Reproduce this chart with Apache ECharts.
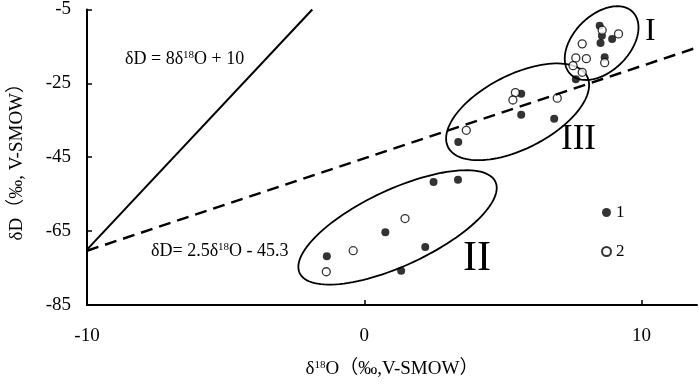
<!DOCTYPE html>
<html>
<head>
<meta charset="utf-8">
<script src="https://cdn.jsdelivr.net/npm/echarts@6/dist/echarts.min.js"></script>
<style>
  html, body { margin: 0; padding: 0; background: #fff; }
  #chart { width: 699px; height: 384px; }
</style>
</head>
<body>
<div id="chart"></div>
<script>
// 数据
var group1 = [
  [8.49, -9.4], [8.57, -12.1], [8.52, -14.1], [8.94, -13.0], [8.67, -17.9],
  [7.63, -23.9], [6.85, -34.6], [5.66, -27.8], [5.66, -33.5], [3.39, -40.9],
  [2.5, -51.7], [3.38, -51.1], [0.76, -65.3], [2.2, -69.3], [-1.35, -71.8], [1.33, -75.7]
]
var group2 = [
  [8.58, -10.6], [9.17, -11.6], [7.86, -14.3], [7.63, -18.1], [8.01, -18.3],
  [8.67, -19.4], [7.53, -20.2], [7.86, -22.0], [6.96, -29.0], [5.45, -27.5],
  [5.36, -29.5], [3.68, -37.7], [1.47, -61.6], [-0.4, -70.3], [-1.37, -76.0]
]
var gmwl = [[-10, -70], [-1.875, -5]]
var lmwl = [[-10, -70.3], [12, -15.3]]
// 椭圆: 中心x, 中心y, 半长轴px, 半短轴px, 角度
var ellipses = [
  [8.56, -14.1, 44, 28, -45],
  [5.53, -32.7, 78, 37, -27],
  [1.2, -64.0, 108, 38, -25]
]

var serif = '"Liberation Serif", "Noto Sans CJK SC", serif'
var supStyle = { fontFamily: serif, fontSize: 11, verticalAlign: 'top', padding: [0, 0, 8, 0] }

var chart = echarts.init(document.getElementById('chart'))
var option = {
  animation: false,
  grid: { left: 80, right: 2, top: 7, bottom: 74 },
  legend: {
    orient: 'vertical',
    left: 596,
    top: 199,
    itemWidth: 9,
    itemHeight: 9,
    itemGap: 22,
    data: ['1', '2'],
    textStyle: { fontFamily: serif, fontSize: 17, color: '#000' },
  },
  xAxis: {
    type: 'value',
    min: -10,
    max: 12,
    interval: 10,
    name: 'δ{sup|18}O（‰,V-SMOW）',
    nameLocation: 'middle',
    nameGap: 55,
    nameTextStyle: {
      fontFamily: serif, fontSize: 19, color: '#000',
      rich: { sup: supStyle },
    },
    axisLine: { onZero: false, lineStyle: { color: '#000', width: 2 } },
    axisTick: { inside: true, length: 5, lineStyle: { color: '#000', width: 1.5 } },
    axisLabel: { fontFamily: serif, fontSize: 19, color: '#000', margin: 22, showMaxLabel: false },
    splitLine: { show: false },
  },
  yAxis: {
    type: 'value',
    min: -85,
    max: -5,
    interval: 20,
    name: 'δD（‰, V-SMOW）',
    nameLocation: 'middle',
    nameGap: 60,
    nameTextStyle: { fontFamily: serif, fontSize: 19, color: '#000' },
    axisLine: { onZero: false, lineStyle: { color: '#000', width: 2 } },
    axisTick: { inside: true, length: 5, lineStyle: { color: '#000', width: 1.5 } },
    axisLabel: { fontFamily: serif, fontSize: 19, color: '#000', margin: 16 },
    splitLine: { show: false },
  },
  series: [
    {
      type: 'line',
      data: gmwl,
      symbol: 'none',
      lineStyle: { color: '#000', width: 2 },
    },
    {
      type: 'line',
      data: lmwl,
      symbol: 'none',
      lineStyle: { color: '#000', width: 2.5, type: [12, 7] },
    },
    {
      type: 'custom',
      data: ellipses,
      renderItem: function (params, api) {
        var c = api.coord([api.value(0), api.value(1)])
        var a = api.value(2)
        var b = api.value(3)
        var ang = api.value(4) * Math.PI / 180
        var pts = []
        for (var i = 0; i < 120; i++) {
          var t = i / 120 * Math.PI * 2
          var ex = a * Math.cos(t)
          var ey = b * Math.sin(t)
          pts.push([
            c[0] + ex * Math.cos(ang) - ey * Math.sin(ang),
            c[1] + ex * Math.sin(ang) + ey * Math.cos(ang),
          ])
        }
        return {
          type: 'polygon',
          shape: { points: pts },
          style: { fill: 'none', stroke: '#000', lineWidth: 1.8 },
        }
      },
    },
    {
      name: '1',
      type: 'scatter',
      data: group1,
      symbol: 'circle',
      symbolSize: 8,
      itemStyle: { color: '#000' },
    },
    {
      name: '2',
      type: 'scatter',
      data: group2,
      symbol: 'circle',
      symbolSize: 8,
      itemStyle: { color: '#fff', borderColor: '#000', borderWidth: 1.3 },
    },
  ],
  graphic: [
    {
      type: 'text', left: 125, top: 50,
      style: {
        text: 'δD = 8δ{sup|18}O + 10', fontFamily: serif, fontSize: 18, fill: '#000',
        rich: { sup: supStyle },
      },
    },
    {
      type: 'text', left: 151, top: 242,
      style: {
        text: 'δD= 2.5δ{sup|18}O - 45.3', fontFamily: serif, fontSize: 18, fill: '#000',
        rich: { sup: supStyle },
      },
    },
    { type: 'text', left: 645, top: 16, style: { text: 'I', fontFamily: serif, fontSize: 32, fill: '#000' } },
    { type: 'text', left: 561, top: 122, style: { text: 'III', fontFamily: serif, fontSize: 35, fill: '#000' } },
    { type: 'text', left: 463, top: 238, style: { text: 'II', fontFamily: serif, fontSize: 42, fill: '#000' } },
  ],
}
chart.setOption(option)

window.addEventListener('resize', function () {
  chart.resize()
})
</script>
</body>
</html>
